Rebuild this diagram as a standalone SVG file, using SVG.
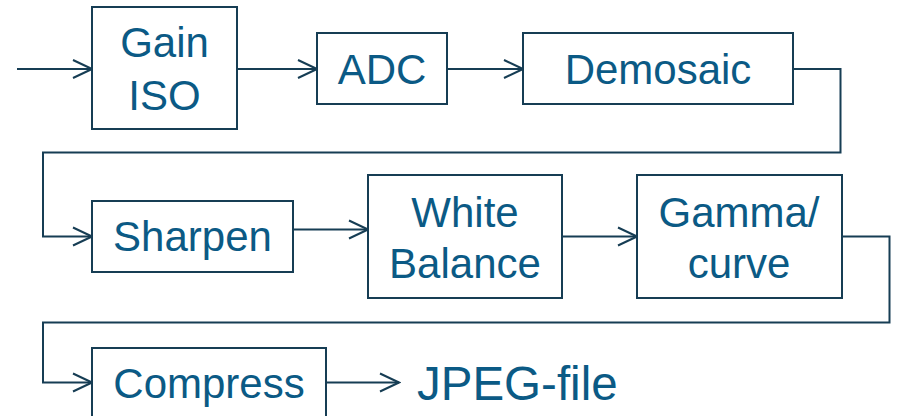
<svg xmlns="http://www.w3.org/2000/svg" width="898" height="416" viewBox="0 0 898 416">
  <style>
    .box { fill: #ffffff; stroke: #163d54; stroke-width: 2; }
    .lbl { font-family: "Liberation Sans", Arial, sans-serif; font-size: 42px; fill: #0b5a85; text-anchor: middle; }
    .wire { fill: none; stroke: #163d54; stroke-width: 2; }
  </style>
  <defs>
    <marker id="chev" markerUnits="userSpaceOnUse" viewBox="-21 -11 23 22" refX="0" refY="0" markerWidth="23" markerHeight="22" orient="auto">
      <path d="M-19,-9 L0,0 L-19,9" fill="none" stroke="#163d54" stroke-width="2"/>
    </marker>
  </defs>

  <rect width="898" height="416" fill="#ffffff"/>

  <g id="connectors">
    <path class="wire" d="M17,69 H92" marker-end="url(#chev)"/>
    <path class="wire" d="M237,69 H317" marker-end="url(#chev)"/>
    <path class="wire" d="M447,69 H523" marker-end="url(#chev)"/>
    <path class="wire" d="M793,69 H840.5 V152.5 H43 V236.5 H92" marker-end="url(#chev)"/>
    <path class="wire" d="M293,229.5 H368" marker-end="url(#chev)"/>
    <path class="wire" d="M562,236.5 H637" marker-end="url(#chev)"/>
    <path class="wire" d="M842,236.5 H889.5 V322.5 H43 V382.5 H92" marker-end="url(#chev)"/>
    <path class="wire" d="M326,382.5 H399" marker-end="url(#chev)"/>
  </g>

  <g id="gain-iso">
    <rect class="box" x="92" y="7" width="145" height="122"/>
    <text class="lbl" x="164.5" y="57">Gain</text>
    <text class="lbl" x="164.5" y="110">ISO</text>
  </g>

  <g id="adc">
    <rect class="box" x="317" y="33" width="130" height="71"/>
    <text class="lbl" x="382" y="84">ADC</text>
  </g>

  <g id="demosaic">
    <rect class="box" x="523" y="33" width="270" height="71"/>
    <text class="lbl" x="658" y="84">Demosaic</text>
  </g>

  <g id="sharpen">
    <rect class="box" x="92" y="201" width="201" height="71"/>
    <text class="lbl" x="192.5" y="251">Sharpen</text>
  </g>

  <g id="white-balance">
    <rect class="box" x="368" y="175" width="194" height="123"/>
    <text class="lbl" x="465" y="227">White</text>
    <text class="lbl" x="465" y="278">Balance</text>
  </g>

  <g id="gamma-curve">
    <rect class="box" x="637" y="175" width="205" height="123"/>
    <text class="lbl" x="739" y="227">Gamma/</text>
    <text class="lbl" x="739" y="278">curve</text>
  </g>

  <g id="compress">
    <rect class="box" x="92" y="348" width="234" height="80"/>
    <text class="lbl" x="209" y="398">Compress</text>
  </g>

  <g id="jpeg-file">
    <text class="lbl" x="417" y="400" style="text-anchor:start;font-size:47.5px">JPEG-file</text>
  </g>
</svg>
